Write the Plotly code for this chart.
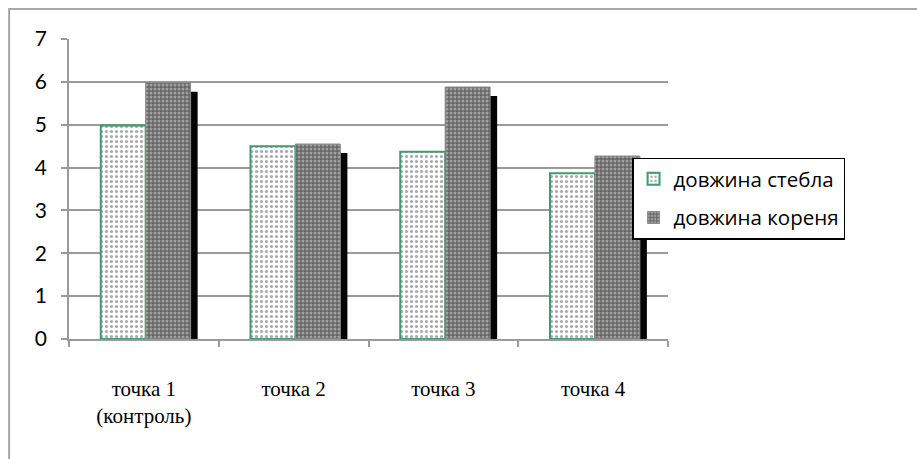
import plotly.graph_objects as go

# Measured lengths per sampling point
categories = ["точка 1<br>(контроль)", "точка 2", "точка 3", "точка 4"]
stem_length = [4.98, 4.50, 4.37, 3.87]
root_length = [5.98, 4.55, 5.88, 4.27]
series_names = ["довжина стебла", "довжина кореня"]
y_ticks = [0, 1, 2, 3, 4, 5, 6, 7]

pos = list(range(len(categories)))
bar_w = 0.3
shift = 0.012
shadow_dx = 0.047
shadow_dy = 0.21

grid = "#9a9a9a"

fig = go.Figure()

# drop shadow behind the root bars
fig.add_trace(go.Bar(
    x=pos, y=[v - shadow_dy for v in root_length],
    width=bar_w, offset=shift + shadow_dx,
    marker=dict(color="#050505", line=dict(width=0)),
    showlegend=False, hoverinfo="skip",
))

fig.add_trace(go.Bar(
    name=series_names[0], x=pos, y=stem_length, legendgroup="a",
    width=bar_w, offset=shift - bar_w,
    marker=dict(
        color="white",
        line=dict(color="#3f9c70", width=2),
        pattern=dict(shape=".", fgcolor="#a8a8a8", bgcolor="white",
                     size=5, solidity=0.3, fillmode="replace"),
    ),
))

fig.add_trace(go.Bar(
    name=series_names[1], x=pos, y=root_length, legendgroup="b",
    width=bar_w, offset=shift,
    marker=dict(
        color="#6f6f6f",
        line=dict(color="#8a8a8a", width=1),
        pattern=dict(shape=".", fgcolor="#a0a0a0", bgcolor="#666666",
                     size=4, solidity=0.45, fillmode="replace"),
    ),
))

# outer chart frame
fig.add_shape(type="rect", xref="paper", yref="paper",
              x0=-0.1, x1=1.42, y0=-0.41, y1=1.1,
              line=dict(color="#8c8c8c", width=1.5), layer="below")

fig.update_layout(
    width=917, height=459,
    margin=dict(l=69, r=249, t=39, b=120),
    paper_bgcolor="white", plot_bgcolor="white",
    barmode="overlay",
    legend=dict(
        x=0.94, y=0.605, xanchor="left", yanchor="top",
        bgcolor="white", bordercolor="black", borderwidth=1.5,
        font=dict(family="Open Sans", size=20.5, color="black"),
        tracegroupgap=9, itemwidth=30,
    ),
)

fig.update_xaxes(
    range=[-0.5, 3.5], tickvals=pos, ticktext=categories,
    showline=True, linecolor=grid, linewidth=1.5,
    showgrid=False, ticks="", ticklabelstandoff=30,
    tickfont=dict(family="Liberation Serif", size=21, color="black"),
    minor=dict(tick0=-0.5, dtick=1, ticks="outside", ticklen=6,
               tickcolor=grid, tickwidth=1.5, showgrid=False),
)

fig.update_yaxes(
    range=[0, 7], tickvals=y_ticks,
    showline=True, linecolor=grid, linewidth=1.5,
    showgrid=True, gridcolor=grid, gridwidth=1.5,
    ticks="outside", ticklen=6, tickcolor=grid, tickwidth=1.5,
    ticklabelstandoff=10, zeroline=False,
    tickfont=dict(family="Lato", size=21, color="black"),
)

fig.write_html("out.html")
